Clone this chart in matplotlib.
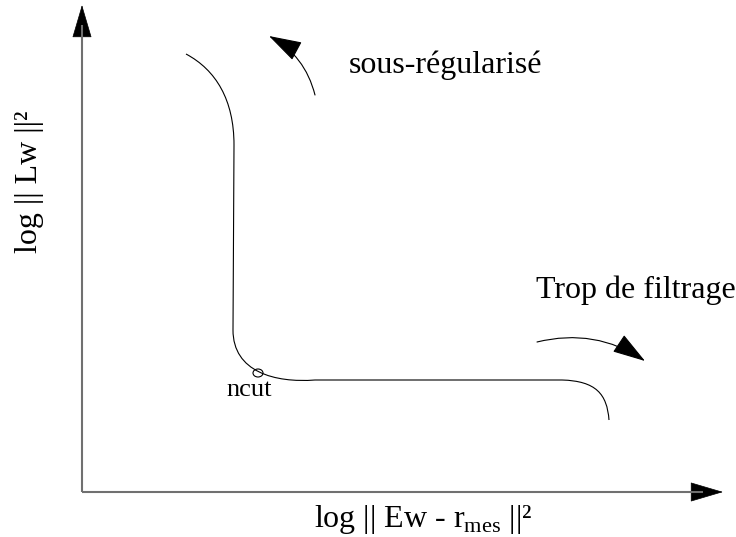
import matplotlib.pyplot as plt
from matplotlib.patches import Ellipse, FancyArrowPatch, PathPatch
from matplotlib.path import Path

plt.rcParams["font.family"] = ["Liberation Serif", "DejaVu Serif"]
plt.rcParams["mathtext.fontset"] = "custom"
plt.rcParams["mathtext.rm"] = "Liberation Serif"

# schematic L-curve, origin at the axis corner (units = pixels of the sketch)
curve_x = [104, 134, 152, 152, 151, 151, 193, 233, 480, 514, 525, 527]
curve_y = [438, 422, 392, 347, 162, 120, 109, 112, 112, 111, 98, 72]
curve_codes = [Path.MOVETO, Path.CURVE4, Path.CURVE4, Path.CURVE4, Path.LINETO,
               Path.CURVE4, Path.CURVE4, Path.CURVE4, Path.LINETO,
               Path.CURVE4, Path.CURVE4, Path.CURVE4]

ncut_xy = (176, 119)
x_axis_end = 641
y_axis_end = 487

# direction arrows: (start, end, curvature)
up_arrow = ((233, 397), (187, 456), 0.22)
right_arrow = ((455, 150), (563, 131), -0.22)

# text, anchor (baseline centre), size
labels = [
    ("sous-régularisé", (364, 419), 23),
    ("Trop de filtrage", (554, 194), 23),
    ("ncut", (167, 96), 19),
]
xlabel = r"log || Ew - r$_{\mathrm{mes}}$ ||²"
ylabel = "log || Lw ||²"

fig = plt.figure(figsize=(7.36, 5.37), dpi=100)
ax = fig.add_axes([0, 0, 1, 1])
ax.set_xlim(-82, 654)
ax.set_ylim(-45, 492)
ax.axis("off")

# axes with arrow heads
ax.plot([0, 0], [0, y_axis_end - 20], color="#707070", lw=1.5, solid_capstyle="butt")
ax.plot([0, x_axis_end - 20], [0, 0], color="#707070", lw=1.5, solid_capstyle="butt")
for tail, tip in [((0, y_axis_end - 30), (0, y_axis_end)),
                  ((x_axis_end - 30, 0), (x_axis_end, 0))]:
    ax.add_patch(FancyArrowPatch(tail, tip, arrowstyle="-|>,head_length=22,head_width=6.5",
                                 color="black", lw=0.5, shrinkA=0, shrinkB=0))

# the curve
ax.add_patch(PathPatch(Path(list(zip(curve_x, curve_y)), curve_codes),
                       facecolor="none", edgecolor="black", lw=0.8))
ax.add_patch(Ellipse(ncut_xy, 10, 8, facecolor="none", edgecolor="black", lw=0.8))

for start, end, rad in [up_arrow, right_arrow]:
    ax.add_patch(FancyArrowPatch(start, end, connectionstyle=f"arc3,rad={rad}",
                                 arrowstyle="-|>,head_length=21,head_width=6.5",
                                 color="black", lw=0.8, shrinkA=0, shrinkB=0))

for txt, xy, size in labels:
    ax.text(xy[0], xy[1], txt, fontsize=size, ha="center", va="baseline")

ax.text(341, -35, xlabel, fontsize=23, ha="center", va="baseline")
ax.text(-52, 310, ylabel, fontsize=23, ha="center", va="center", rotation=90)

fig.savefig("out.png", dpi=100)
